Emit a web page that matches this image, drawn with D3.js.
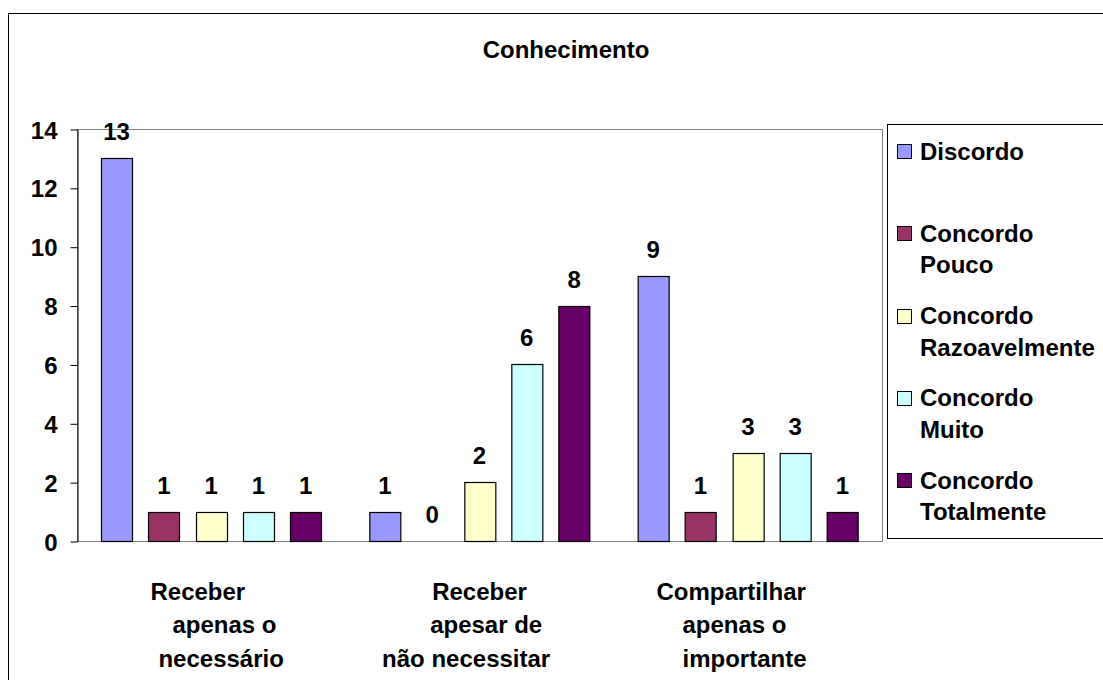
<!DOCTYPE html>
<html>
<head>
<meta charset="utf-8">
<script src="https://cdn.jsdelivr.net/npm/d3@7"></script>
<style>
  html, body { margin: 0; padding: 0; background: #fff; overflow: hidden; }
  svg { display: block; }
  text { font-family: "Liberation Sans", Arial, sans-serif; font-weight: bold; fill: #000; }
</style>
</head>
<body>
<svg id="chart" width="1103" height="680"></svg>
<script>
// ---- Data ----
const title = "Conhecimento";
const categories = ["Receber apenas o necessário", "Receber apesar de não necessitar", "Compartilhar apenas o importante"];
const categoryLines = [
  ["Receber    ", "    apenas o", "   necessário"],
  ["Receber", "  apesar de", "não necessitar    "],
  ["Compartilhar     ", "apenas o    ", "importante "]
];
const seriesNames = ["Discordo", "Concordo Pouco", "Concordo Razoavelmente", "Concordo Muito", "Concordo Totalmente"];
const legendLines = [["Discordo"], ["Concordo", "Pouco"], ["Concordo", "Razoavelmente"], ["Concordo", "Muito"], ["Concordo", "Totalmente"]];
const seriesColors = ["#9999FF", "#993366", "#FFFFCC", "#CCFFFF", "#660066"];
const discordo = [13, 1, 9];
const concordoPouco = [1, 0, 1];
const concordoRazoavelmente = [1, 2, 3];
const concordoMuito = [1, 6, 3];
const concordoTotalmente = [1, 8, 1];
const yTicks = [0, 2, 4, 6, 8, 10, 12, 14];

const seriesValues = [discordo, concordoPouco, concordoRazoavelmente, concordoMuito, concordoTotalmente];

// ---- Layout ----
const svg = d3.select("#chart");
const plot = { left: 77, right: 882, top: 129, bottom: 541 };

// outer chart border (extends beyond the viewport)
svg.append("rect")
  .attr("x", 8.5).attr("y", 13.5).attr("width", 1300).attr("height", 1000)
  .attr("fill", "none").attr("stroke", "#000").attr("stroke-width", 1);

// title
svg.append("text")
  .attr("x", 566).attr("y", 58)
  .attr("text-anchor", "middle")
  .attr("font-size", 24)
  .text(title);

// scales
const x0 = d3.scaleBand().domain(categories).range([plot.left, plot.right]).padding(0);
const x1 = d3.scaleBand().domain(seriesNames).range([0, x0.bandwidth()])
  .paddingInner(0.345).paddingOuter(0.509);
const y = d3.scaleLinear().domain([0, 14]).range([plot.bottom, plot.top]);

// plot area border (gray)
svg.append("rect")
  .attr("x", plot.left + 0.5).attr("y", plot.top + 0.5)
  .attr("width", plot.right - plot.left).attr("height", plot.bottom - plot.top)
  .attr("fill", "none").attr("stroke", "#808080").attr("stroke-width", 1);

// y axis
const yAxis = d3.axisLeft(y).tickValues(yTicks).tickSize(7).tickPadding(13).tickSizeOuter(0);
const gy = svg.append("g").attr("transform", `translate(${plot.left + 0.5},0.5)`).call(yAxis);
gy.select(".domain").attr("stroke", "#000");
gy.selectAll(".tick line").attr("stroke", "#000");
gy.selectAll(".tick text")
  .attr("font-size", 24)
  .attr("font-family", "Liberation Sans, Arial, sans-serif")
  .attr("font-weight", "bold")
  .attr("fill", "#000")
  .attr("dy", "0.36em");

// bars
const groups = svg.append("g").selectAll("g")
  .data(categories)
  .join("g")
  .attr("transform", d => `translate(${x0(d)},0)`);

groups.each(function(cat, ci) {
  const g = d3.select(this);
  const rows = seriesNames.map((s, si) => ({ s, si, v: seriesValues[si][ci] }));
  g.selectAll("rect")
    .data(rows.filter(r => r.v > 0))
    .join("rect")
    .attr("x", r => Math.round(x1(r.s)) + 0.5)
    .attr("y", r => Math.round(y(r.v)) + 0.5)
    .attr("width", Math.round(x1.bandwidth()))
    .attr("height", r => Math.round(y(0)) - Math.round(y(r.v)))
    .attr("fill", r => seriesColors[r.si])
    .attr("stroke", "#000")
    .attr("stroke-width", 1.2);
  g.selectAll("text.val")
    .data(rows)
    .join("text")
    .attr("class", "val")
    .attr("x", r => x1(r.s) + x1.bandwidth() / 2)
    .attr("y", r => y(r.v) - 18)
    .attr("text-anchor", "middle")
    .attr("font-size", 24)
    .text(r => r.v);
});

// category labels
const lineYs = [599.5, 633.3, 667];
categories.forEach((cat, ci) => {
  const cx = x0(cat) + x0.bandwidth() / 2;
  categoryLines[ci].forEach((ln, li) => {
    svg.append("text")
      .attr("x", cx).attr("y", lineYs[li])
      .attr("text-anchor", "middle")
      .attr("font-size", 24)
      .style("white-space", "pre")
      .text(ln);
  });
});

// legend
svg.append("rect")
  .attr("x", 887.5).attr("y", 124.5).attr("width", 400).attr("height", 414)
  .attr("fill", "#fff").attr("stroke", "#000").attr("stroke-width", 1);

seriesNames.forEach((s, i) => {
  const cy = 151 + i * 82.3;
  svg.append("rect")
    .attr("x", 897.5).attr("y", Math.round(cy - 7) + 0.5)
    .attr("width", 14).attr("height", 14)
    .attr("fill", seriesColors[i]).attr("stroke", "#000").attr("stroke-width", 1);
  legendLines[i].forEach((ln, li) => {
    svg.append("text")
      .attr("x", 920).attr("y", cy + 8.5 + li * 31.5)
      .attr("font-size", 24)
      .text(ln);
  });
});
</script>
</body>
</html>
